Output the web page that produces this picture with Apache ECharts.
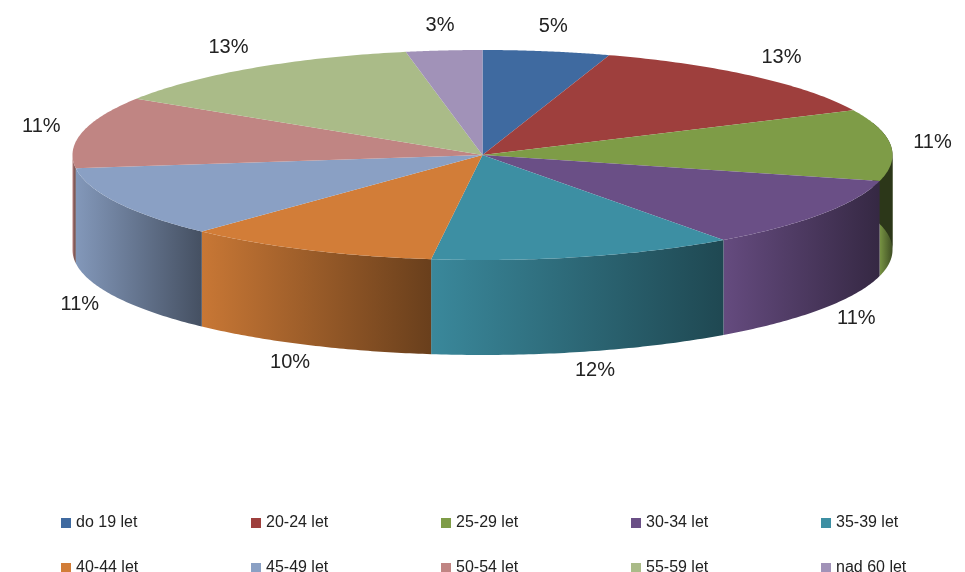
<!DOCTYPE html>
<html><head><meta charset="utf-8">
<script src="https://cdn.jsdelivr.net/npm/echarts@6/dist/echarts.min.js"></script>
<style>html,body{margin:0;background:#fff}#c{width:965px;height:572px}</style>
</head><body><div id="c"></div>
<script>
const categories = ['do 19 let','20-24 let','25-29 let','30-34 let','35-39 let','40-44 let','45-49 let','50-54 let','55-59 let','nad 60 let'];
const values = [5,13,11,11,12,10,11,11,13,3];
const labels = ['5%','13%','11%','11%','12%','10%','11%','11%','13%','3%'];
const colors = ['#3f6aa0','#9e3f3d','#7e9c47','#6a4f86','#3d8fa3','#d27d38','#8aa0c4','#c08583','#aabb88','#a192b8'];

function darken(hex, f){
  const n = parseInt(hex.slice(1),16);
  const r=Math.round(((n>>16)&255)*f), g=Math.round(((n>>8)&255)*f), b=Math.round((n&255)*f);
  return 'rgb('+r+','+g+','+b+')';
}
const chart = echarts.init(document.getElementById('c'));
const total = values.reduce((a,b)=>a+b,0);
function renderItem(params, api){
  const i = params.dataIndex;
  const cx = api.getWidth()*0.5, cy = 155, rx = 410, ry = 105, depth = 95;
  let start = 0; for(let k=0;k<i;k++) start += values[k];
  const a0 = start/total*2*Math.PI, a1 = (start+values[i])/total*2*Math.PI;
  const pt = t => [cx + rx*Math.sin(t), cy - ry*Math.cos(t)];
  const N = 60, arc = [];
  for(let s=0;s<=N;s++) arc.push(pt(a0+(a1-a0)*s/N));
  const children = [];
  const f0 = Math.max(a0, Math.PI/2), f1 = Math.min(a1, 1.5*Math.PI);
  if (f1 > f0) {
    const top = [];
    for(let s=0;s<=N;s++) top.push(pt(f0+(f1-f0)*s/N));
    const bot = top.slice().reverse().map(p=>[p[0],p[1]+depth]);
    children.push({type:'polygon', shape:{points:top.concat(bot)}, style:{
      fill:new echarts.graphic.LinearGradient(0,0,1,0,[
        {offset:0,color:darken(colors[i],0.95)},
        {offset:1,color:darken(colors[i],0.5)}])}});
  }
  if (a0 < Math.PI/2 && a1 > Math.PI*0.4) {
    const e0 = Math.max(a0, Math.PI*0.4), e1 = Math.min(a1, Math.PI/2);
    const top=[]; for(let s=0;s<=20;s++) top.push(pt(e0+(e1-e0)*s/20));
    const bot = top.slice().reverse().map(p=>[p[0],p[1]+depth]);
    children.push({type:'polygon', shape:{points:top.concat(bot)}, style:{fill:darken(colors[i],0.35)}});
  }
  children.push({type:'polygon', shape:{points:[[cx,cy]].concat(arc)}, style:{fill:colors[i]}});
  const m = (a0+a1)/2;
  let lx = cx + (rx+42)*Math.sin(m), ly = cy - (ry+25)*Math.cos(m);
  if (Math.cos(m) < 0) ly += depth - 5;
  children.push({type:'text', z2:10, style:{x:lx, y:ly, text:labels[i], fill:'#222', font:'20px "Liberation Sans", Arial', align:'center', verticalAlign:'middle'}});
  return {type:'group', children};
}
const legends = categories.map((n,i)=>({
  data:[n], left:56+190*(i%5), top: i<5 ? 510 : 555, itemWidth:10, itemHeight:10,
  icon:'rect', selectedMode:false, textStyle:{fontSize:16, color:'#222', fontFamily:'"Liberation Sans", Arial'}
}));
chart.setOption({
  animation:false,
  legend: legends,
  series:[
    {type:'custom', renderItem, coordinateSystem:'none', data: values.map((v,i)=>[i])},
    {type:'pie', radius:[0,0], center:[-100,-100], label:{show:false}, labelLine:{show:false}, silent:true,
     data: categories.map((n,i)=>({name:n, value:values[i], itemStyle:{color:colors[i]}}))}
  ]
});
</script></body></html>
